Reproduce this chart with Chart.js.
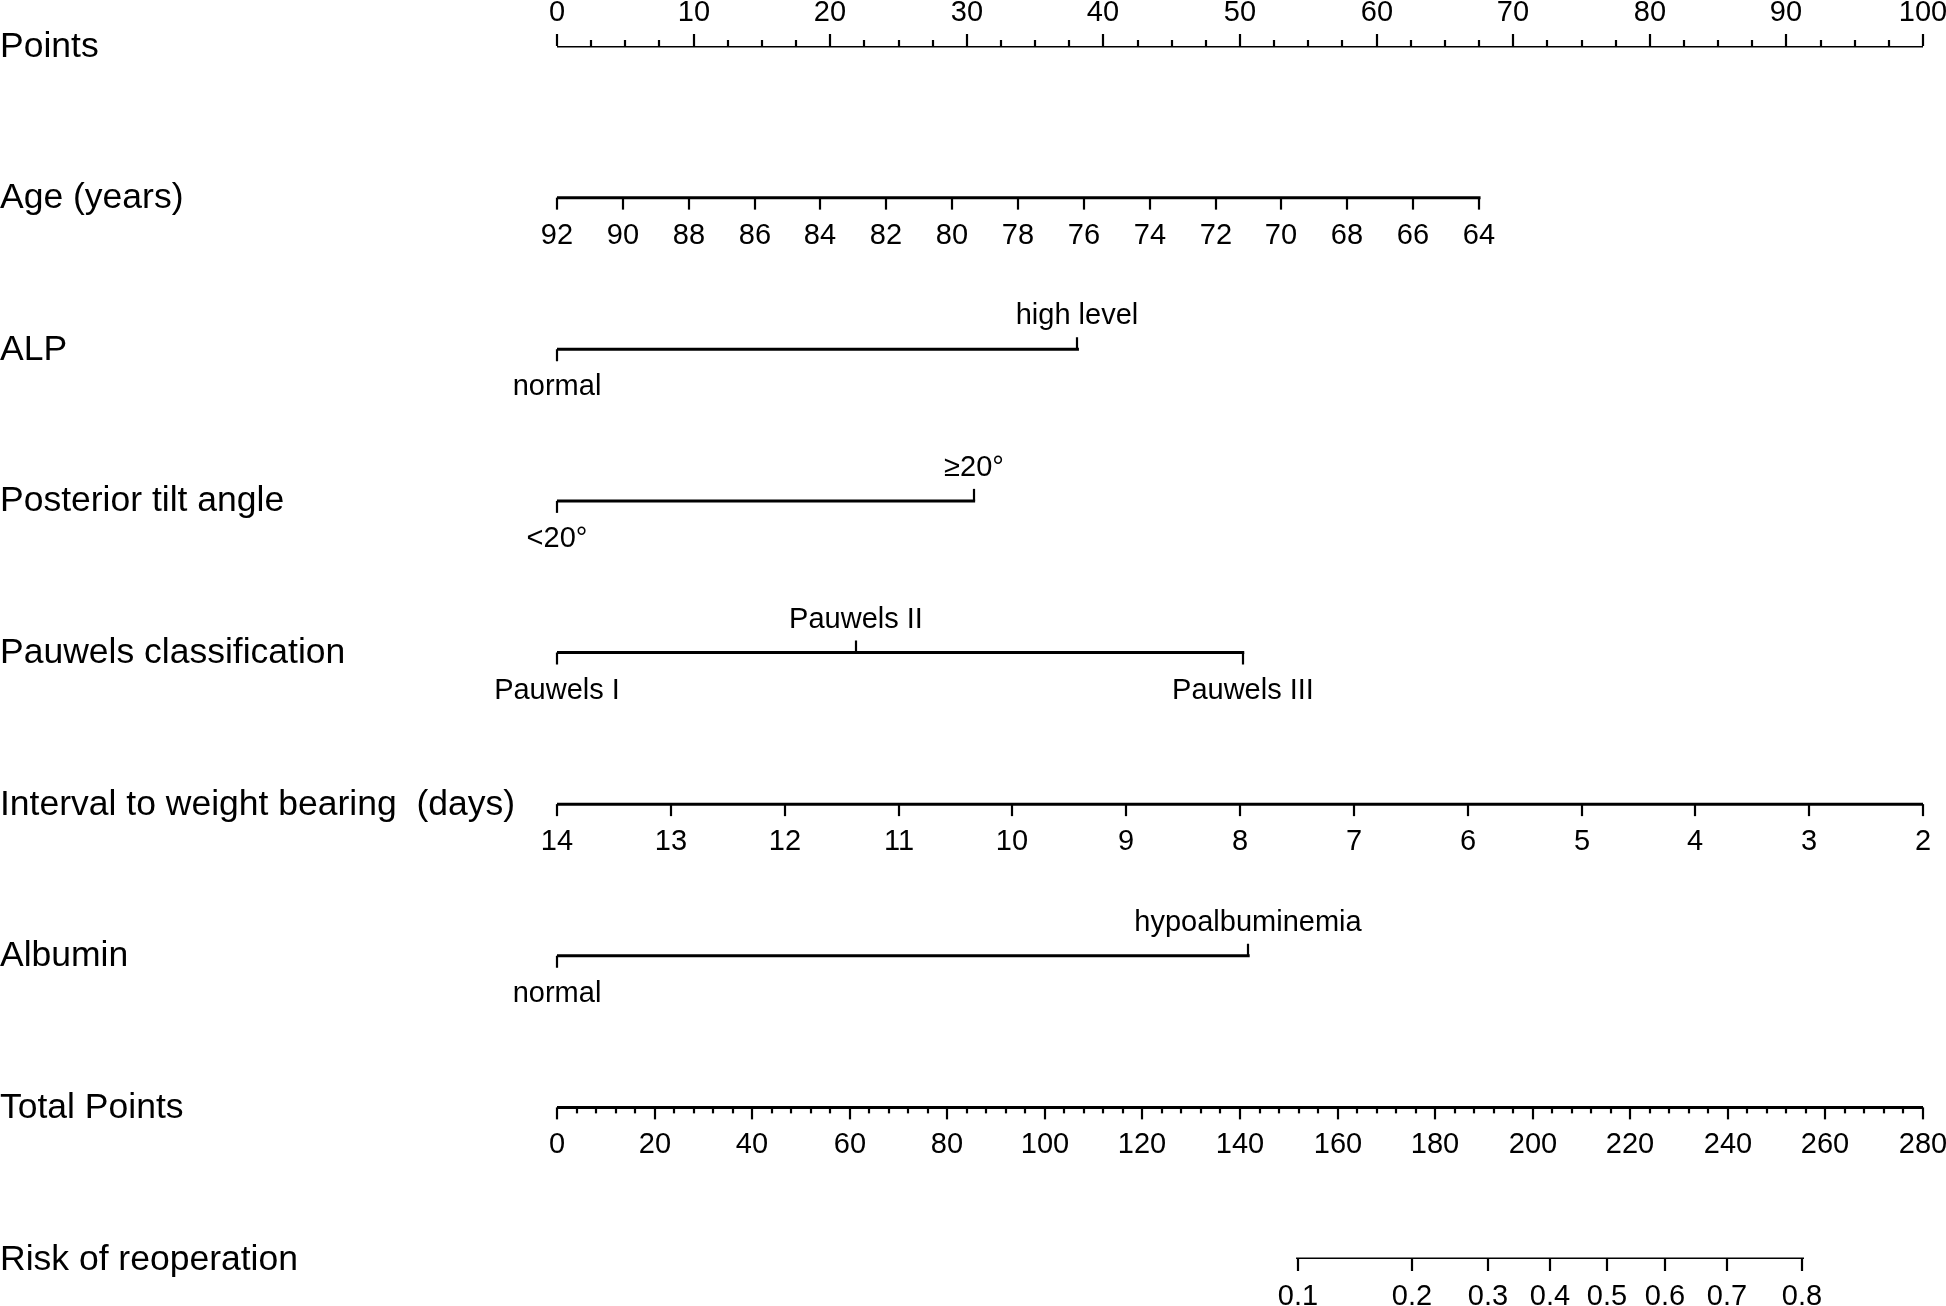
<!DOCTYPE html>
<html>
<head>
<meta charset="utf-8">
<script src="https://cdn.jsdelivr.net/npm/chart.js@4.4.1/dist/chart.umd.min.js"></script>
<style>
  html, body { margin: 0; padding: 0; background: #fff; }
  #wrap { width: 1946px; height: 1306px; }
</style>
</head>
<body>
<div id="wrap"><canvas id="nomogram" width="1946" height="1306"></canvas></div>
<script>
// row names, top to bottom
const rowLabels = [
  'Points',
  'Age (years)',
  'ALP',
  'Posterior tilt angle',
  'Pauwels classification',
  'Interval to weight bearing  (days)',
  'Albumin',
  'Total Points',
  'Risk of reoperation'
];

const pointsTicks = [0, 10, 20, 30, 40, 50, 60, 70, 80, 90, 100];
const pointsMinorStep = 2.5;

const ageTicks = [92, 90, 88, 86, 84, 82, 80, 78, 76, 74, 72, 70, 68, 66, 64];
const ageMaxPoints = 67.5; // points for the youngest age (64)

const alpLevels = ['normal', 'high level'];
const alpPoints = [0, 38.1];

const tiltLevels = ['<20°', '≥20°'];
const tiltPoints = [0, 30.5];

const pauwelsLevels = ['Pauwels I', 'Pauwels II', 'Pauwels III'];
const pauwelsPoints = [0, 21.9, 50.2];

const intervalTicks = [14, 13, 12, 11, 10, 9, 8, 7, 6, 5, 4, 3, 2];

const albuminLevels = ['normal', 'hypoalbuminemia'];
const albuminPoints = [0, 50.6];

const totalTicks = [0, 20, 40, 60, 80, 100, 120, 140, 160, 180, 200, 220, 240, 260, 280];
const totalMinorStep = 4;
const totalMax = 280;

const riskTicks = [0.1, 0.2, 0.3, 0.4, 0.5, 0.6, 0.7, 0.8];
const riskTotalPoints = [151.8, 175.3, 190.9, 203.6, 215.3, 227.1, 239.9, 255.3];

// map every row onto the 0-100 points scale
function linearRow(values, from, to, maxPts) {
  return values.map(v => ({ pos: (from - v) / (from - to) * maxPts, text: String(v) }));
}

function levelRow(levels, pts) {
  // labels alternate below / above the line
  return levels.map((l, i) => ({ pos: pts[i], text: l, up: i % 2 === 1 }));
}

function minorTicks(max, step, majorStep, scale) {
  const out = [];
  for (let v = step; v < max; v += step) {
    if (Math.abs(v / majorStep - Math.round(v / majorStep)) > 1e-6) out.push(v * scale);
  }
  return out;
}

const rows = [
  { ticks: pointsTicks.map(v => ({ pos: v, text: String(v), up: true })),
    minor: minorTicks(100, pointsMinorStep, 10, 1), minorUp: true },
  { ticks: linearRow(ageTicks, 92, 64, ageMaxPoints) },
  { ticks: levelRow(alpLevels, alpPoints) },
  { ticks: levelRow(tiltLevels, tiltPoints) },
  { ticks: levelRow(pauwelsLevels, pauwelsPoints) },
  { ticks: linearRow(intervalTicks, 14, 2, 100) },
  { ticks: levelRow(albuminLevels, albuminPoints) },
  { ticks: totalTicks.map(v => ({ pos: v / totalMax * 100, text: String(v) })),
    minor: minorTicks(totalMax, totalMinorStep, 20, 100 / totalMax), minorUp: false },
  { ticks: riskTicks.map((p, i) => ({ pos: riskTotalPoints[i] / totalMax * 100, text: String(p) })) }
];

const FONT = '"Liberation Sans", Arial, Helvetica, sans-serif';
const TICK_LEN = 12;
const MINOR_LEN = 6;

const nomogramPlugin = {
  id: 'nomogram',
  afterDatasetsDraw(chart) {
    const ctx = chart.ctx;
    const xs = chart.scales.x;
    const ys = chart.scales.y;
    ctx.save();
    ctx.fillStyle = '#000';
    ctx.strokeStyle = '#000';
    ctx.lineWidth = 2.2;

    rows.forEach((row, r) => {
      const y = ys.getPixelForValue(r);

      ctx.font = '35.5px ' + FONT;
      ctx.textAlign = 'left';
      ctx.textBaseline = 'alphabetic';
      ctx.fillText(rowLabels[r], 0, y + 10.5);

      ctx.font = '29px ' + FONT;
      ctx.textAlign = 'center';
      row.ticks.forEach(t => {
        const x = Math.round(xs.getPixelForValue(t.pos));
        ctx.beginPath();
        ctx.moveTo(x, y);
        ctx.lineTo(x, t.up ? y - TICK_LEN : y + TICK_LEN);
        ctx.stroke();
        ctx.fillText(t.text, x, t.up ? y - 25 : y + 46);
      });

      (row.minor || []).forEach(p => {
        const x = Math.round(xs.getPixelForValue(p));
        ctx.beginPath();
        ctx.moveTo(x, y);
        ctx.lineTo(x, row.minorUp ? y - MINOR_LEN : y + MINOR_LEN);
        ctx.stroke();
      });
    });
    ctx.restore();
  }
};

const datasets = rows.map((row, r) => {
  const pos = row.ticks.map(t => t.pos);
  return {
    data: [{ x: Math.min(...pos), y: r }, { x: Math.max(...pos), y: r }],
    borderColor: '#000',
    borderWidth: 3,
    pointRadius: 0,
    showLine: true,
    borderCapStyle: 'square'
  };
});

new Chart(document.getElementById('nomogram'), {
  type: 'scatter',
  data: { datasets },
  options: {
    responsive: false,
    animation: false,
    events: [],
    layout: { padding: { left: 557, right: 23, top: 46, bottom: 47 } },
    plugins: { legend: { display: false }, tooltip: { enabled: false } },
    scales: {
      x: { type: 'linear', min: 0, max: 100, display: false },
      y: { type: 'linear', min: 0, max: rows.length - 1, reverse: true, display: false }
    }
  },
  plugins: [nomogramPlugin]
});
</script>
</body>
</html>
